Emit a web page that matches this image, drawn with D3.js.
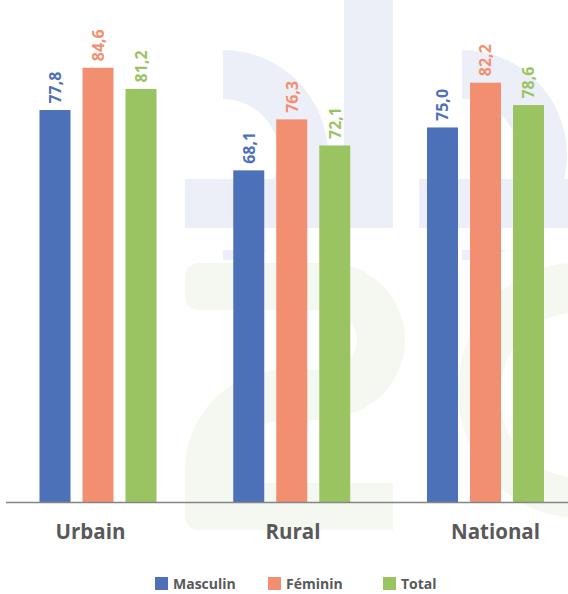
<!DOCTYPE html>
<html>
<head>
<meta charset="utf-8">
<script src="https://cdn.jsdelivr.net/npm/d3@7"></script>
<style>
  html, body { margin: 0; padding: 0; background: #ffffff; }
  svg { display: block; }
  text { font-family: "Open Sans", "Noto Sans", sans-serif; }
</style>
</head>
<body>
<svg id="chart" width="568" height="594"></svg>
<script>
// ---- data ----
const categories = ["Urbain", "Rural", "National"];
const seriesNames = ["Masculin", "Féminin", "Total"];
const masculin = [77.8, 68.1, 75.0];
const feminin  = [84.6, 76.3, 82.2];
const total    = [81.2, 72.1, 78.6];
const seriesValues = [masculin, feminin, total];
const colors = ["#4D71B8", "#F28F70", "#9AC462"];

const fmt = v => d3.format(".1f")(v).replace(".", ",");

const svg = d3.select("#chart");
const W = 568, H = 594;
const baseY = 502;

// ---- faint watermark (decoration) ----
const wm = svg.append("g");
const blueWM = "#ECEFF8", greenWM = "#F5F8F1";
function aShape(cx, cy, barX0, stemX0, stemX1) {
  const arc = d3.arc().innerRadius(56).outerRadius(105).startAngle(0).endAngle(Math.PI);
  wm.append("path").attr("d", arc()).attr("transform", `translate(${cx},${cy})`).attr("fill", blueWM);
  wm.append("rect").attr("x", barX0).attr("y", 179).attr("width", stemX0 - barX0 + 1).attr("height", 49).attr("fill", blueWM);
  if (stemX1 > stemX0) wm.append("rect").attr("x", stemX0).attr("y", 0).attr("width", stemX1 - stemX0).attr("height", 228).attr("fill", blueWM);
}
const clip = svg.append("defs").append("clipPath").attr("id", "wmclip");
clip.append("rect").attr("x", 0).attr("y", 0).attr("width", W).attr("height", 228);
clip.append("rect").attr("x", 0).attr("y", 250).attr("width", W).attr("height", 300);
wm.attr("clip-path", "url(#wmclip)");
aShape(223, 155, 185, 344, 393);
aShape(462, 155, 419, 570, 570);

// green "2"
const r1 = d3.arc().innerRadius(29).outerRadius(77).startAngle(0).endAngle(Math.PI);
wm.append("path").attr("d", r1()).attr("transform", "translate(328,340)").attr("fill", greenWM);
wm.append("path").attr("d", "M200,263 H329 V310 H200 Q185,310 185,295 V278 Q185,263 200,263 Z").attr("fill", greenWM);
const r2 = d3.arc().innerRadius(50).outerRadius(100).startAngle(-Math.PI / 2).endAngle(0);
wm.append("path").attr("d", r2()).attr("transform", "translate(285,470)").attr("fill", greenWM);
wm.append("rect").attr("x", 284).attr("y", 370).attr("width", 45).attr("height", 50).attr("fill", greenWM);
wm.append("path").attr("d", "M185,469 H235 V483 H393 V530 H200 Q185,530 185,515 Z").attr("fill", greenWM);
// green right "e"
wm.append("path")
  .attr("d", "M575,263 A117,127 0 1,0 575,517 Z M575,313 A75,82 0 1,0 575,477 Z")
  .attr("fill", greenWM).attr("fill-rule", "evenodd");

// ---- scales ----
const x0 = d3.scalePoint().domain(categories).range([98, 485.5]);
const x1 = d3.scaleBand().domain(seriesNames).range([-58.5, 58.5]).paddingInner(12 / 43).paddingOuter(0);
const xLabel = d3.scalePoint().domain(categories).range([90.5, 495.5]);
const y = d3.scaleLinear().domain([14.76, 95]).range([baseY, 3.1]);

// ---- bars ----
const data = [];
categories.forEach((c, i) => seriesNames.forEach((s, j) => data.push({ c, s, j, v: seriesValues[j][i] })));

svg.append("g").selectAll("rect").data(data).join("rect")
  .attr("x", d => x0(d.c) + x1(d.s))
  .attr("y", d => y(d.v))
  .attr("width", x1.bandwidth())
  .attr("height", d => baseY - y(d.v))
  .attr("fill", d => colors[d.j]);

// value labels (rotated) - size tuned so that "84,6" spans about 32px
const probe = svg.append("text").attr("font-size", 16).attr("font-weight", 700).text("84,6");
const probeLen = probe.node().getComputedTextLength() || 32;
probe.remove();
const valFs = Math.max(13, Math.min(18, 16 * 32 / probeLen));

svg.append("g").selectAll("text").data(data).join("text")
  .attr("transform", d => `translate(${x0(d.c) + x1(d.s) + x1.bandwidth() / 2},${y(d.v) - 6.5}) rotate(-90)`)
  .attr("dy", "0.36em")
  .attr("text-anchor", "start")
  .attr("font-size", valFs)
  .attr("font-weight", 700)
  .attr("fill", d => colors[d.j])
  .text(d => fmt(d.v));

// axis line
svg.append("line").attr("x1", 6).attr("x2", W).attr("y1", baseY + 0.5).attr("y2", baseY + 0.5)
  .attr("stroke", "#858585").attr("stroke-width", 1.5);

// category labels
svg.append("g").selectAll("text").data(categories).join("text")
  .attr("x", d => xLabel(d))
  .attr("y", 539)
  .attr("text-anchor", "middle")
  .attr("font-size", 20.5)
  .attr("font-weight", 700)
  .attr("fill", "#595959")
  .text(d => d);

// legend
const legendX = [155, 268, 383];
const lg = svg.append("g").selectAll("g").data(seriesNames).join("g")
  .attr("transform", (d, i) => `translate(${legendX[i]},577)`);
lg.append("rect").attr("width", 13).attr("height", 13).attr("fill", (d, i) => colors[i]);
lg.append("text").attr("x", 18).attr("y", 12).attr("font-size", 14).attr("font-weight", 700)
  .attr("fill", "#595959").text(d => d);
</script>
</body>
</html>
